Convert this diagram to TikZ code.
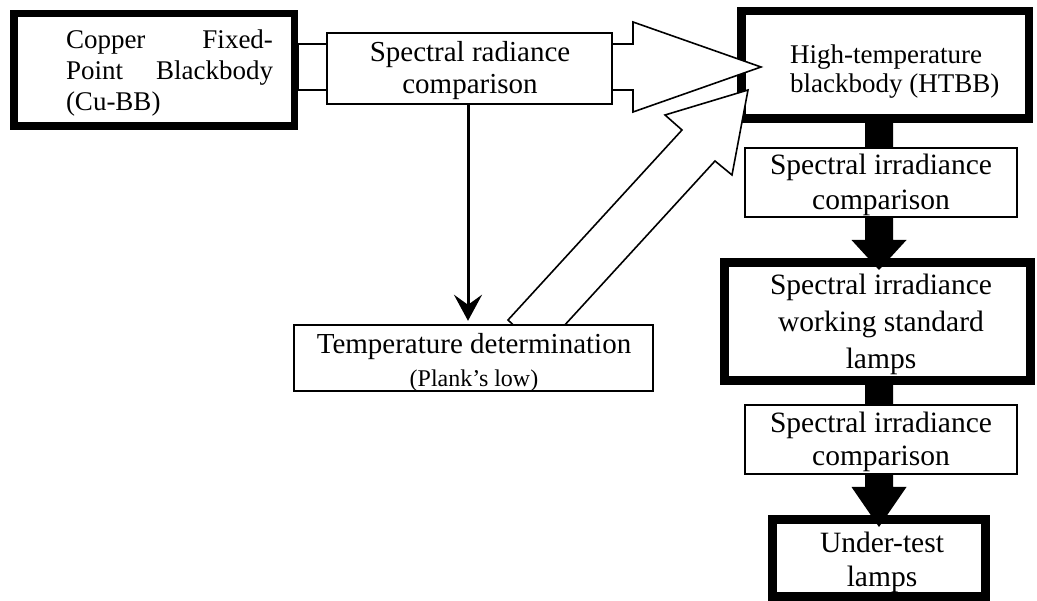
\documentclass[tikz,border=0pt]{standalone}
\usepackage{fontspec}
\setmainfont{Liberation Serif}
\usetikzlibrary{arrows.meta}
\begin{document}
\begin{tikzpicture}[x=1pt,y=-1pt,
  box/.style={draw, fill=white, line width=1.6pt, inner sep=0pt, outer sep=0pt},
  heavybox/.style={draw, fill=white, inner sep=0pt, outer sep=0pt},
  hollow/.style={draw, fill=white, line width=1.6pt, line join=miter},
  solidarrow/.style={fill=black, draw=none},
  thinarrow/.style={line width=3pt, -{Stealth[length=26pt,width=28pt,inset=10pt]}, shorten >=4pt},
  txt/.style={inner sep=0pt, align=center, font=\fontsize{29.5}{35}\selectfont},
]
\useasboundingbox (0,0) rectangle (1037,601);

% heavy boxes under the arrows
\node[heavybox, line width=8.5pt, minimum width=287.5pt, minimum height=107.5pt] (htbb) at (885,65) {};
\node[heavybox, line width=9pt, minimum width=306pt, minimum height=118pt] (swl) at (877.5,321.5) {};
\node[heavybox, line width=9pt, minimum width=213pt, minimum height=77pt] (utl) at (879,558) {};

% hollow block arrows
\draw[hollow] (298,44) -- (633,44) -- (633,22) -- (761,67) -- (633,112) -- (633,90) -- (298,90) -- cycle;
\draw[hollow] (508,320) -- (682,130) -- (665,115) -- (748,90) -- (732,175) -- (715,161) -- (541,351) -- cycle;

% solid block arrows
\fill[solidarrow] (865,120) -- (893,120) -- (893,240) -- (906.5,240) -- (879,270) -- (851.5,240) -- (865,240) -- cycle;
\fill[solidarrow] (865,383) -- (893,383) -- (893,487) -- (906.5,487) -- (879,527) -- (851.5,487) -- (865,487) -- cycle;

% boxes on top
\node[box, minimum width=272.4pt, minimum height=69.4pt] (sic1) at (881,182.5) {};
\node[box, minimum width=272.4pt, minimum height=69.4pt] (sic2) at (881,439.5) {};
\node[box, minimum width=285.4pt, minimum height=71.4pt] (src) at (469.5,68.5) {};
\node[box, minimum width=359.4pt, minimum height=66.4pt] (td) at (473.5,358) {};
\node[heavybox, line width=7.5pt, minimum width=280.5pt, minimum height=112.5pt] (cubb) at (154,70) {};

% thin arrow
\draw[thinarrow] ([xshift=-1.5pt]src.south) -- ([xshift=-1.5pt]src.south |- td.north);

% texts
\node[inner sep=0pt, align=left, font=\fontsize{27}{31}\selectfont] (cutxt) at (169.5,73)
  {\makebox[207pt]{Copper\hfill Fixed-}\\\makebox[207pt]{Point\hfill Blackbody}\\(Cu-BB)};
\node[inner sep=0pt, align=left, anchor=west, font=\fontsize{27}{29}\selectfont] (htxt) at (790,72)
  {High-temperature\\blackbody (HTBB)};
\node[txt, font=\fontsize{29}{32}\selectfont] (srctxt) at (470,70.5) {Spectral radiance\\comparison};
\node[txt, font=\fontsize{29.5}{35}\selectfont] (sic1txt) at (881,184.5) {Spectral irradiance\\comparison};
\node[txt, font=\fontsize{29.5}{37}\selectfont] (swltxt) at (881,324.5) {Spectral irradiance\\working standard\\lamps};
\node[txt, font=\fontsize{29.5}{33}\selectfont] (sic2txt) at (881,441.5) {Spectral irradiance\\comparison};
\node[txt, font=\fontsize{29.5}{34}\selectfont] (utltxt) at (882,562) {Under-test\\lamps};
\node[txt, font=\fontsize{29}{33}\selectfont] (tdtxt) at (474,362)
  {Temperature determination\\{\fontsize{24}{33}\selectfont (Plank’s low)}};
\end{tikzpicture}
\end{document}
